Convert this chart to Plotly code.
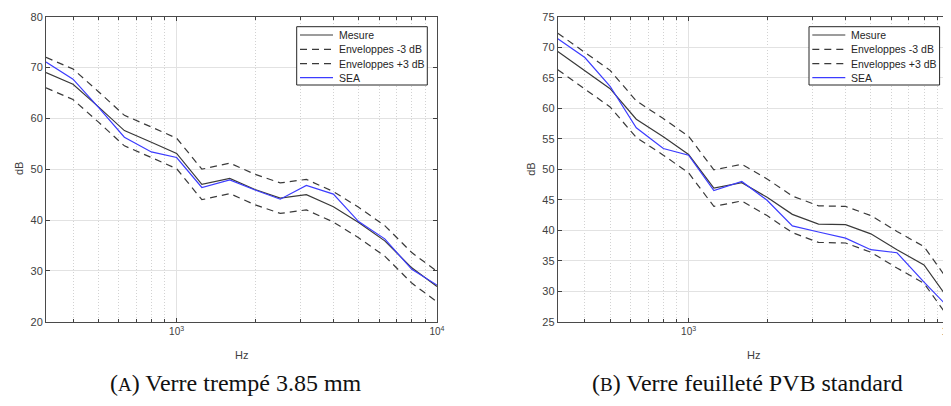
import math
import plotly.graph_objects as go

# ---------------- data ----------------
freqs = [315, 400, 500, 630, 800, 1000, 1250, 1600, 2000, 2500, 3150, 4000, 5000, 6300, 8000, 10000]

# (A) Verre trempé 3.85 mm
mesure_a = [69.0, 66.7, 62.3, 57.6, 55.3, 53.1, 47.0, 48.2, 46.0, 44.3, 45.0, 42.6, 39.5, 35.9, 30.6, 26.9]
env_lo_a = [66.0, 63.7, 59.3, 54.6, 52.3, 50.1, 44.0, 45.2, 43.0, 41.3, 42.0, 39.6, 36.5, 32.9, 27.6, 23.9]
env_hi_a = [72.0, 69.7, 65.3, 60.6, 58.3, 56.1, 50.0, 51.2, 49.0, 47.3, 48.0, 45.6, 42.5, 38.9, 33.6, 29.9]
sea_a = [71.1, 67.7, 62.2, 56.3, 53.4, 52.3, 46.4, 47.9, 45.9, 44.1, 46.8, 45.1, 39.7, 36.3, 30.3, 27.2]

# (B) Verre feuilleté PVB standard
mesure_b = [69.3, 66.2, 63.2, 58.2, 55.3, 52.4, 46.9, 47.8, 45.4, 42.6, 41.0, 40.9, 39.4, 36.8, 34.3, 28.5]
env_lo_b = [66.3, 63.2, 60.2, 55.2, 52.3, 49.4, 43.9, 44.8, 42.4, 39.6, 38.0, 37.9, 36.4, 33.8, 31.3, 25.5]
env_hi_b = [72.3, 69.2, 66.2, 61.2, 58.3, 55.4, 49.9, 50.8, 48.4, 45.6, 44.0, 43.9, 42.4, 39.8, 37.3, 31.5]
sea_b = [71.4, 68.3, 63.6, 56.8, 53.4, 52.3, 46.5, 48.0, 44.9, 40.7, 39.7, 38.7, 36.8, 36.3, 31.5, 27.2]

series_names = ["Mesure", "Enveloppes -3 dB", "Enveloppes +3 dB", "SEA"]
x_tickvals = [1000, 10000]
x_ticktext = ["10<sup>3</sup>", "10<sup>4</sup>"]
x_minor = [400, 500, 600, 700, 800, 900, 2000, 3000, 4000, 5000, 6000, 7000, 8000, 9000]
captions = ["(<span style='font-size:19px'>A</span>) Verre trempé 3.85 mm",
            "(<span style='font-size:19px'>B</span>) Verre feuilleté PVB standard"]

# ---------------- styles ----------------
W, H = 951, 406
OFF = 8  # page body margin of the browser


def px(x):
    return (x - OFF) / W


def py(y):
    return 1 - (y - OFF) / H


DARK = "#3a3a3a"
BLUE = "#3c3cff"
DASH = "7px,5px"
styles = [dict(color=DARK, width=1.2),
          dict(color=DARK, width=1.2, dash=DASH),
          dict(color=DARK, width=1.2, dash=DASH),
          dict(color=BLUE, width=1.2)]

fig = go.Figure()

panels = [
    dict(xa="x", ya="y", data=[mesure_a, env_lo_a, env_hi_a, sea_a]),
    dict(xa="x2", ya="y2", data=[mesure_b, env_lo_b, env_hi_b, sea_b]),
]
for p in panels:
    for name, vals, st in zip(series_names, p["data"], styles):
        fig.add_trace(go.Scatter(x=freqs, y=vals, mode="lines", name=name,
                                 line=st, xaxis=p["xa"], yaxis=p["ya"],
                                 showlegend=False, hoverinfo="x+y+name"))

tickfont = dict(family="Liberation Sans, Arial, sans-serif", size=11, color="#404040")
common_x = dict(type="log", range=[math.log10(315), 4], tickmode="array",
                tickvals=x_tickvals, ticktext=x_ticktext,
                ticks="inside", ticklen=4, tickcolor="#404040", tickwidth=1,
                showline=True, linecolor="#4a4a4a", linewidth=1, mirror="ticks",
                showgrid=True, gridcolor="#e2e2e2", gridwidth=1,
                minor=dict(tickmode="array", tickvals=x_minor, ticks="inside", ticklen=3,
                           tickcolor="#404040", showgrid=True, gridcolor="#d2d2d2",
                           griddash="1px,2px", gridwidth=1),
                tickfont=dict(family="Liberation Sans, Arial, sans-serif", size=10, color="#404040"),
                automargin=False, zeroline=False, fixedrange=True)
common_y = dict(ticks="inside", ticklen=4, tickcolor="#404040", tickwidth=1,
                showline=True, linecolor="#4a4a4a", linewidth=1, mirror="ticks",
                showgrid=True, gridcolor="#e2e2e2", gridwidth=1,
                tickfont=tickfont, automargin=False, zeroline=False, fixedrange=True)

ydom = [py(321.7), py(16.7)]
fig.update_layout(
    width=W, height=H,
    margin=dict(l=0, r=0, t=0, b=0),
    paper_bgcolor="white", plot_bgcolor="white",
    showlegend=False,
    xaxis=dict(domain=[px(46), px(437)], anchor="y", **common_x),
    yaxis=dict(domain=ydom, anchor="x", range=[20, 80], dtick=10, **common_y),
    xaxis2=dict(domain=[px(557.8), px(949.3)], anchor="y2", **common_x),
    yaxis2=dict(domain=ydom, anchor="x2", range=[25, 75], dtick=5, **common_y),
)

shapes = []
annotations = []
labfont = dict(family="Liberation Sans, Arial, sans-serif", size=11, color="#404040")
legfont = dict(family="Liberation Sans, Arial, sans-serif", size=10.5, color="#262626")
row_y = [35, 49.3, 63.7, 77.7]

for i, (x0, x1) in enumerate([(46, 437), (557.8, 949.3)]):
    cx = (x0 + x1) / 2
    # axis titles
    annotations.append(dict(text="Hz", x=px(cx), y=py(355), xref="paper", yref="paper",
                            showarrow=False, font=labfont, xanchor="center", yanchor="middle"))
    annotations.append(dict(text="dB", x=px(x0 - 27), y=py(169), xref="paper", yref="paper",
                            showarrow=False, font=labfont, textangle=-90,
                            xanchor="center", yanchor="middle"))
    # legend box
    lx0 = x1 - 140.3
    lx1 = x1 - 9.7
    shapes.append(dict(type="rect", xref="paper", yref="paper",
                       x0=px(lx0), x1=px(lx1), y0=py(85), y1=py(26.7),
                       line=dict(color="#262626", width=1), fillcolor="white", layer="above"))
    for name, st, ry in zip(series_names, styles, row_y):
        shapes.append(dict(type="line", xref="paper", yref="paper",
                           x0=px(lx0 + 3.3), x1=px(lx0 + 36.3), y0=py(ry), y1=py(ry),
                           line=st, layer="above"))
        annotations.append(dict(text=name, x=px(lx0 + 40), y=py(ry), xref="paper", yref="paper",
                                showarrow=False, font=legfont, xanchor="left", yanchor="middle"))

# captions
capfont = dict(family="Liberation Serif, Times New Roman, serif", size=24, color="#111111")
annotations.append(dict(text=captions[0], x=px(236), y=py(383), xref="paper", yref="paper",
                        showarrow=False, font=capfont, xanchor="center", yanchor="middle"))
annotations.append(dict(text=captions[1], x=px(747), y=py(383), xref="paper", yref="paper",
                        showarrow=False, font=capfont, xanchor="center", yanchor="middle"))

fig.update_layout(shapes=shapes, annotations=annotations)
fig.write_html("out.html")
